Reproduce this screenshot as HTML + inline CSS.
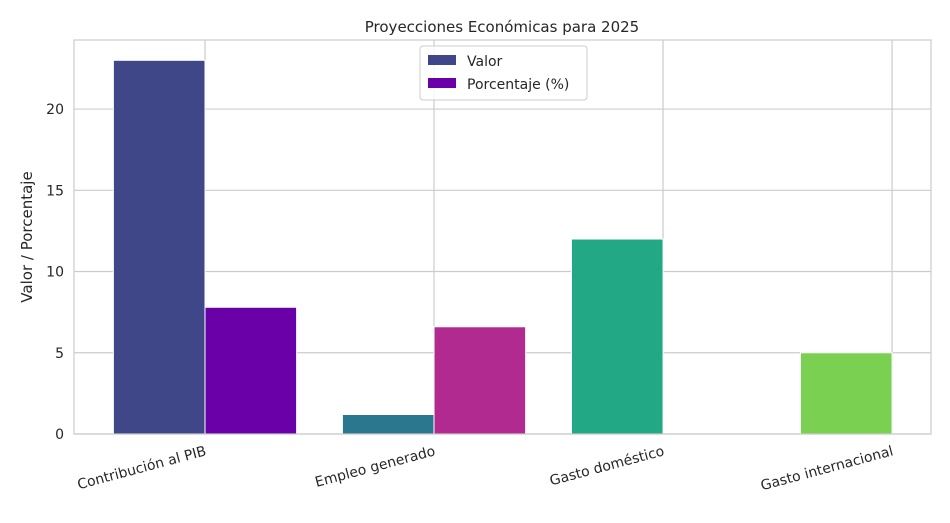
<!DOCTYPE html>
<html><head><meta charset="utf-8"><style>
body{margin:0;background:#fff;font-family:"Liberation Sans","DejaVu Sans",sans-serif;}
svg text{font-family:"DejaVu Sans","Liberation Sans",sans-serif;fill:#262626;}
</style></head><body>
<svg id="chart" width="950" height="518" viewBox="0 0 950 518">
<rect width="950" height="518" fill="#fff"/>
<text x="502" y="32" font-size="15" text-anchor="middle">Proyecciones Económicas para 2025</text>
<g id="grid"></g><g id="bars"></g><g id="axes"></g>
<rect x="74" y="40" width="857" height="394" fill="none" stroke="#ccc" stroke-width="1.2"/>
<text transform="translate(32,237) rotate(-90)" font-size="15" text-anchor="middle">Valor / Porcentaje</text>
<g>
<rect x="420" y="46" width="167" height="54" fill="#fff" fill-opacity="0.8" stroke="#ccc" rx="3"/>
<g><rect x="428" y="55" width="28" height="10" fill="#404788"/><text x="467" y="66" font-size="14">Valor</text></g>
<g><rect x="428" y="78" width="28" height="10" fill="#6a00a8"/><text x="467" y="89" font-size="14">Porcentaje (%)</text></g>
</g>
</svg>
<script>
const categories=["Contribución al PIB","Empleo generado","Gasto doméstico","Gasto internacional"];
const valor=[23,1.2,12,5];
const porcentaje=[7.8,6.6,0,0];
const yTicks=[0,5,10,15,20];
const valorColors=["#404788","#2a788e","#22a884","#7ad151"];
const pctColors=["#6a00a8","#b12a90","#e16462","#fca636"];
const NS="http://www.w3.org/2000/svg";
const X0=74,X1=931,Y0=434,Y1=40,xmin=-0.572,xmax=3.17,ymax=24.25;
const xs=v=>X0+(v-xmin)/(xmax-xmin)*(X1-X0);
const ys=v=>Y0-v/ymax*(Y0-Y1);
const bw=0.4*(X1-X0)/(xmax-xmin);
function mk(t,a,p){const e=document.createElementNS(NS,t);for(const k in a)e.setAttribute(k,a[k]);p.appendChild(e);return e;}
const g=document.getElementById("grid"),b=document.getElementById("bars"),ax=document.getElementById("axes");
yTicks.forEach(t=>{
 const l=mk("line",{x1:X0,x2:X1,y1:ys(t),y2:ys(t),stroke:"#ccc","stroke-width":1.2},g);
 
 
 const tx=mk("text",{x:X0-10,y:ys(t)+5,"font-size":14,"text-anchor":"end"},ax);tx.textContent=t;
 
 
});
categories.forEach((c,i)=>{
 const cx=xs(i);
 const l=mk("line",{x1:cx,x2:cx,y1:Y1,y2:Y0,stroke:"#ccc","stroke-width":1.2},g);
 
 
 const r1=mk("rect",{x:cx-bw,y:ys(valor[i]),width:bw,height:Y0-ys(valor[i]),fill:valorColors[i],stroke:"#fff","stroke-width":1},b);
 
 
 const r2=mk("rect",{x:cx,y:ys(porcentaje[i]),width:bw,height:Y0-ys(porcentaje[i]),fill:pctColors[i],stroke:"#fff","stroke-width":1},b);
 
 
 const tx=mk("text",{x:cx+2,y:455,"font-size":14,"text-anchor":"end",transform:`rotate(-15 ${cx+2} 455)`},ax);tx.textContent=c;
 
 
});
</script>
</body></html>
